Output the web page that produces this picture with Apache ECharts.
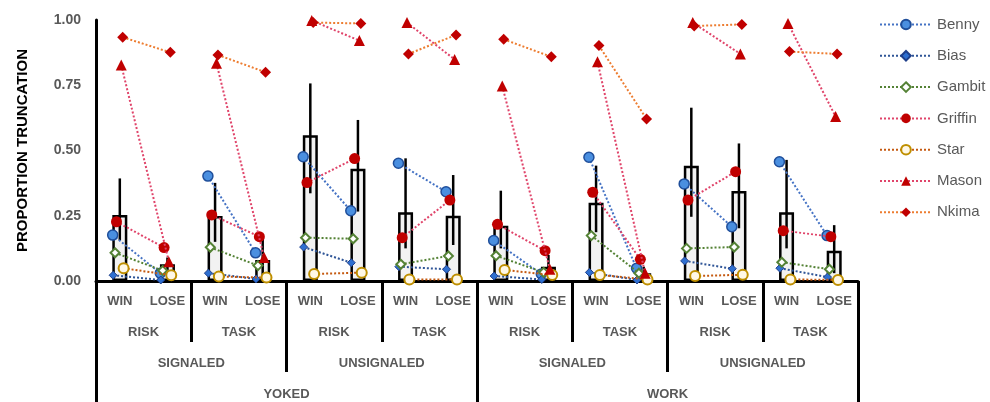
<!DOCTYPE html>
<html>
<head>
<meta charset="utf-8">
<script src="https://cdn.jsdelivr.net/npm/echarts@6/dist/echarts.min.js"></script>
<style>
html,body{margin:0;padding:0;background:#fff;}
#chart{width:990px;height:402px;}
</style>
</head>
<body>
<div id="chart"></div>
<script>
// ---- Data ----
var outcomeLabels = ['WIN','LOSE','WIN','LOSE','WIN','LOSE','WIN','LOSE','WIN','LOSE','WIN','LOSE','WIN','LOSE','WIN','LOSE'];
var taskLabels = ['RISK','TASK','RISK','TASK','RISK','TASK','RISK','TASK'];
var signalLabels = ['SIGNALED','UNSIGNALED','SIGNALED','UNSIGNALED'];
var conditionLabels = ['YOKED','WORK'];

var barMeans = [0.253, 0.064, 0.249, 0.08, 0.558, 0.43, 0.263, 0.25, 0.212, 0.055, 0.30, 0.03, 0.442, 0.345, 0.263, 0.116];
var errHigh  = [0.393, 0.09, 0.376, 0.172, 0.757, 0.617, 0.47, 0.406, 0.346, 0.1, 0.442, 0.055, 0.664, 0.527, 0.464, 0.214];
var errLow   = [0.155, 0.04, 0.15, 0.02, 0.336, 0.266, 0.125, 0.138, 0.125, 0.01, 0.187, 0.005, 0.246, 0.202, 0.125, 0.03];

var subjectNames = ['Benny','Bias','Gambit','Griffin','Star','Mason','Nkima'];
var benny   = [0.176, 0.03, 0.402, 0.108, 0.476, 0.269, 0.451, 0.342, 0.155, 0.027, 0.474, 0.049, 0.372, 0.208, 0.457, 0.174];
var bias    = [0.022, 0.004, 0.03, 0.008, 0.13, 0.07, 0.055, 0.045, 0.019, 0.006, 0.033, 0.004, 0.077, 0.047, 0.049, 0.015];
var gambit  = [0.108, 0.04, 0.129, 0.059, 0.166, 0.162, 0.064, 0.096, 0.097, 0.033, 0.174, 0.03, 0.125, 0.13, 0.072, 0.045];
var griffin = [0.227, 0.128, 0.253, 0.17, 0.377, 0.469, 0.166, 0.31, 0.217, 0.116, 0.34, 0.083, 0.31, 0.419, 0.193, 0.17];
var star    = [0.049, 0.022, 0.017, 0.013, 0.027, 0.032, 0.006, 0.006, 0.042, 0.023, 0.023, 0.006, 0.019, 0.024, 0.006, 0.004];
var mason   = [0.828, 0.074, 0.834, 0.09, 0.998, 0.921, 0.99, 0.849, 0.747, 0.045, 0.84, 0.03, 0.99, 0.87, 0.987, 0.63];
var nkima   = [0.934, 0.876, 0.866, 0.80, 0.99, 0.987, 0.87, 0.943, 0.926, 0.859, 0.902, 0.621, 0.977, 0.983, 0.879, 0.87];
var subjectValues = [benny, bias, gambit, griffin, star, mason, nkima];

var yTicks = [0, 0.25, 0.5, 0.75, 1.0];

// ---- Styles ----
var subjectStyles = [
  {line:'#4472c4', symbol:'circle',  size:10, fill:'#4a8fe0', border:'#1f4e9a', bw:1.5, jitter:-0.15},
  {line:'#2f5597', symbol:'diamond', size:8,  fill:'#2e6fd0', border:'#1f3f8a', bw:1,   jitter:-0.14},
  {line:'#548235', symbol:'diamond', size:9,  fill:'#ffffff', border:'#548235', bw:2,   jitter:-0.10},
  {line:'#e0446a', symbol:'circle',  size:11, fill:'#c00000', border:'#c00000', bw:0,   jitter:-0.07},
  {line:'#c55a11', symbol:'circle',  size:10, fill:'#fff8e6', border:'#bf8f00', bw:2,   jitter:0.08},
  {line:'#e0446a', symbol:'triangle',size:11, fill:'#c00000', border:'#c00000', bw:0,   jitter:0.03},
  {line:'#ed7d31', symbol:'diamond', size:11, fill:'#c00000', border:'#c00000', bw:0,   jitter:0.06}
];

var gray = '#595959';
var fontFam = 'Liberation Sans, Arial, sans-serif';
var labelFont = {color: gray, fontSize: 13, fontWeight: 'bold', fontFamily: fontFam};

function catAxis(data, margin, tickLen, showLine) {
  return {
    type: 'category', position: 'bottom', data: data, gridIndex: 0,
    boundaryGap: true,
    axisLine: {show: showLine, onZero: false, lineStyle: {color: '#000', width: 3}},
    axisTick: {show: tickLen > 0, interval: 0, length: tickLen, lineStyle: {color: '#000', width: 3}},
    axisLabel: Object.assign({interval: 0, margin: margin}, labelFont),
    splitLine: {show: false}
  };
}

var series = [];
series.push({
  type: 'bar', xAxisIndex: 0, yAxisIndex: 0, data: barMeans, barWidth: 15, z: 1,
  itemStyle: {color: '#f2f2f2', borderColor: '#000', borderWidth: 2.5},
  silent: true
});
var errData = barMeans.map(function (m, i) { return [i, errLow[i], errHigh[i]]; });
series.push({
  type: 'custom', xAxisIndex: 0, yAxisIndex: 0, data: errData, z: 2, silent: true,
  renderItem: function (params, api) {
    var lo = api.coord([api.value(0), api.value(1)]);
    var hi = api.coord([api.value(0), api.value(2)]);
    return {type: 'line', shape: {x1: lo[0], y1: lo[1], x2: hi[0], y2: hi[1]},
            style: {stroke: '#000', lineWidth: 2.5}};
  },
  encode: {x: 0, y: [1, 2]}
});

subjectNames.forEach(function (name, s) {
  var st = subjectStyles[s];
  var vals = subjectValues[s];
  for (var g = 0; g < 8; g++) {
    series.push({
      name: name, type: 'line', xAxisIndex: 4, yAxisIndex: 0, z: 3 + s * 0.01,
      data: [[2 * g + st.jitter, vals[2 * g]], [2 * g + 1 + st.jitter, vals[2 * g + 1]]],
      symbol: st.symbol, symbolSize: st.size, showSymbol: true,
      lineStyle: {color: st.line, width: 2, type: 'dotted'},
      itemStyle: {color: st.fill, borderColor: st.border, borderWidth: st.bw},
      animation: false, silent: true
    });
  }
});

var chart = echarts.init(document.getElementById('chart'), null, {renderer: 'canvas'});
chart.setOption({
  animation: false,
  backgroundColor: '#fff',
  grid: {left: 96, right: 132, top: 20, bottom: 121, containLabel: false},
  legend: {
    data: subjectNames, orient: 'vertical', left: 874, top: 12,
    itemWidth: 52, itemHeight: 12, itemGap: 16.3,
    textStyle: {color: gray, fontSize: 15, fontFamily: fontFam},
    selectedMode: false
  },
  xAxis: [
    catAxis(outcomeLabels, 14, 0, true),
    catAxis(taskLabels, 45, 61, false),
    catAxis(signalLabels, 76, 91, false),
    catAxis(conditionLabels, 107, 125, false),
    {type: 'value', position: 'bottom', gridIndex: 0, min: -0.5, max: 15.5, show: false}
  ],
  yAxis: [{
    type: 'value', min: yTicks[0], max: yTicks[yTicks.length - 1], interval: 0.25,
    name: 'PROPORTION TRUNCATION', nameLocation: 'middle', nameGap: 66,
    nameTextStyle: {color: '#000', fontSize: 15, fontWeight: 'bold', fontFamily: fontFam},
    axisLine: {show: true, onZero: false, lineStyle: {color: '#000', width: 3}},
    axisTick: {show: false},
    splitLine: {show: false},
    axisLabel: {margin: 15, fontSize: 14, color: gray, fontWeight: 'bold', fontFamily: fontFam,
      formatter: function (v) { return v.toFixed(2); }}
  }],
  series: series
});
</script>
</body>
</html>
